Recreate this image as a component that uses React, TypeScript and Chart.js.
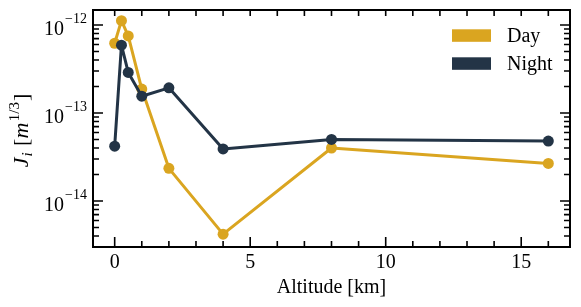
import React, { useEffect, useRef } from "react";
import { Chart, registerables } from "chart.js";

Chart.register(...registerables);

// ---- data ----
const altitudes = [0, 0.25, 0.5, 1, 2, 4, 8, 16];
const dayValues = [6.2e-13, 1.12e-12, 7.5e-13, 1.87e-13, 2.35e-14, 4.2e-15, 4.0e-14, 2.67e-14];
const nightValues = [4.2e-14, 5.9e-13, 2.89e-13, 1.55e-13, 1.93e-13, 3.9e-14, 5.0e-14, 4.8e-14];
const seriesNames = ["Day", "Night"];
const xTickLabels = [0, 5, 10, 15];
const yDecadeExponents = [-14, -13, -12];
const xAxisTitle = "Altitude [km]";

const DAY_COLOR = "#DAA520";
const NIGHT_COLOR = "#233446";
const SERIF = '"Liberation Serif", "Times New Roman", serif';

const decorPlugin = {
  id: "decor",
  afterDraw(chart: any) {
    const { ctx, chartArea: a, scales } = chart;
    const xs = scales.x;
    const ys = scales.y;
    ctx.save();
    ctx.strokeStyle = "#000";
    ctx.fillStyle = "#000";

    // ticks (inward)
    ctx.lineWidth = 1.6;
    ctx.beginPath();
    for (let v = Math.ceil(xs.min); v <= Math.floor(xs.max); v++) {
      const px = xs.getPixelForValue(v);
      const major = v % 5 === 0;
      ctx.moveTo(px, a.bottom);
      ctx.lineTo(px, a.bottom - (major ? 10 : 6));
      ctx.moveTo(px, a.top);
      ctx.lineTo(px, a.top + 6);
    }
    for (let d = -16; d <= -11; d++) {
      for (let m = 1; m <= 9; m++) {
        const v = m * Math.pow(10, d);
        if (v < ys.min || v > ys.max) continue;
        const py = ys.getPixelForValue(v);
        const len = m === 1 ? 10 : 6;
        ctx.moveTo(a.left, py);
        ctx.lineTo(a.left + len, py);
        ctx.moveTo(a.right, py);
        ctx.lineTo(a.right - len, py);
      }
    }
    ctx.stroke();

    // frame
    ctx.lineWidth = 2;
    ctx.strokeRect(a.left, a.top, a.right - a.left, a.bottom - a.top);

    // x tick labels
    ctx.font = `20px ${SERIF}`;
    ctx.textAlign = "center";
    ctx.textBaseline = "alphabetic";
    for (const t of xTickLabels) {
      ctx.fillText(String(t), xs.getPixelForValue(t), 268);
    }

    // x title
    ctx.font = `20px ${SERIF}`;
    ctx.fillText(xAxisTitle, (a.left + a.right) / 2, 293);

    // y tick labels with superscript
    ctx.textAlign = "left";
    for (const e of yDecadeExponents) {
      const py = ys.getPixelForValue(Math.pow(10, e));
      const base = "10";
      const exp = "\u2212" + String(-e);
      ctx.font = `20px ${SERIF}`;
      const wb = ctx.measureText(base).width;
      ctx.font = `14px ${SERIF}`;
      const we = ctx.measureText(exp).width;
      const right = 87;
      const x0 = right - wb - we - 1;
      ctx.font = `20px ${SERIF}`;
      ctx.fillText(base, x0, py + 10);
      ctx.font = `14px ${SERIF}`;
      ctx.fillText(exp, x0 + wb + 1, py - 1.5);
    }

    // y title: J_i [m^{1/3}]
    const pieces = [
      { t: "J", f: `italic 22px ${SERIF}`, dy: 0, gap: 0 },
      { t: "i", f: `italic 15px ${SERIF}`, dy: 4, gap: 1 },
      { t: " [", f: `22px ${SERIF}`, dy: 0, gap: 1 },
      { t: "m", f: `italic 22px ${SERIF}`, dy: 0, gap: 0 },
      { t: "1/3", f: `15px ${SERIF}`, dy: -9, gap: 1.5 },
      { t: "]", f: `22px ${SERIF}`, dy: 0, gap: 1 },
    ];
    let total = 0;
    const widths: number[] = [];
    for (const p of pieces) {
      ctx.font = p.f;
      const w = ctx.measureText(p.t).width;
      widths.push(w);
      total += w + p.gap;
    }
    ctx.save();
    ctx.translate(21, 130.5);
    ctx.rotate(-Math.PI / 2);
    let cx = -total / 2;
    pieces.forEach((p, i) => {
      cx += p.gap;
      ctx.font = p.f;
      ctx.fillText(p.t, cx, 7 + p.dy);
      cx += widths[i];
    });
    ctx.restore();

    // legend
    const colors = [DAY_COLOR, NIGHT_COLOR];
    const rowTops = [29.3, 57.3];
    ctx.font = `20px ${SERIF}`;
    ctx.textAlign = "left";
    chart.data.datasets.forEach((ds: any, i: number) => {
      const idx = seriesNames.indexOf(ds.label);
      const top = rowTops[idx];
      ctx.fillStyle = colors[idx];
      ctx.fillRect(452, top, 39, 12.5);
      ctx.fillStyle = "#000";
      ctx.fillText(ds.label, 507, top + 12.5);
    });

    ctx.restore();
  },
};

export default function App() {
  const canvasRef = useRef<HTMLCanvasElement | null>(null);

  useEffect(() => {
    const canvas = canvasRef.current;
    if (!canvas) return;
    const chart = new Chart(canvas, {
      type: "line",
      data: {
        datasets: [
          {
            label: seriesNames[0],
            data: altitudes.map((x, i) => ({ x, y: dayValues[i] })),
            borderColor: DAY_COLOR,
            backgroundColor: DAY_COLOR,
            pointBackgroundColor: DAY_COLOR,
            pointBorderWidth: 0,
            pointRadius: 5.5,
            borderWidth: 3,
            borderJoinStyle: "round",
            borderCapStyle: "round",
            order: 2,
            clip: false,
          },
          {
            label: seriesNames[1],
            data: altitudes.map((x, i) => ({ x, y: nightValues[i] })),
            borderColor: NIGHT_COLOR,
            backgroundColor: NIGHT_COLOR,
            pointBackgroundColor: NIGHT_COLOR,
            pointBorderWidth: 0,
            pointRadius: 5.5,
            borderWidth: 3,
            borderJoinStyle: "round",
            borderCapStyle: "round",
            order: 1,
            clip: false,
          },
        ],
      } as any,
      options: {
        responsive: false,
        animation: false,
        layout: { padding: { left: 93, top: 10, right: 11, bottom: 60 } },
        scales: {
          x: { type: "linear", min: -0.8, max: 16.8, display: false },
          y: { type: "logarithmic", min: 3.1e-15, max: 1.48e-12, display: false },
        },
        plugins: {
          legend: { display: false },
          tooltip: { enabled: false },
        },
      } as any,
      plugins: [decorPlugin],
    });
    return () => chart.destroy();
  }, []);

  return (
    <div style={{ position: "absolute", left: 0, top: 0, width: 581, height: 307, background: "#fff" }}>
      <canvas ref={canvasRef} width={581} height={307} />
    </div>
  );
}
